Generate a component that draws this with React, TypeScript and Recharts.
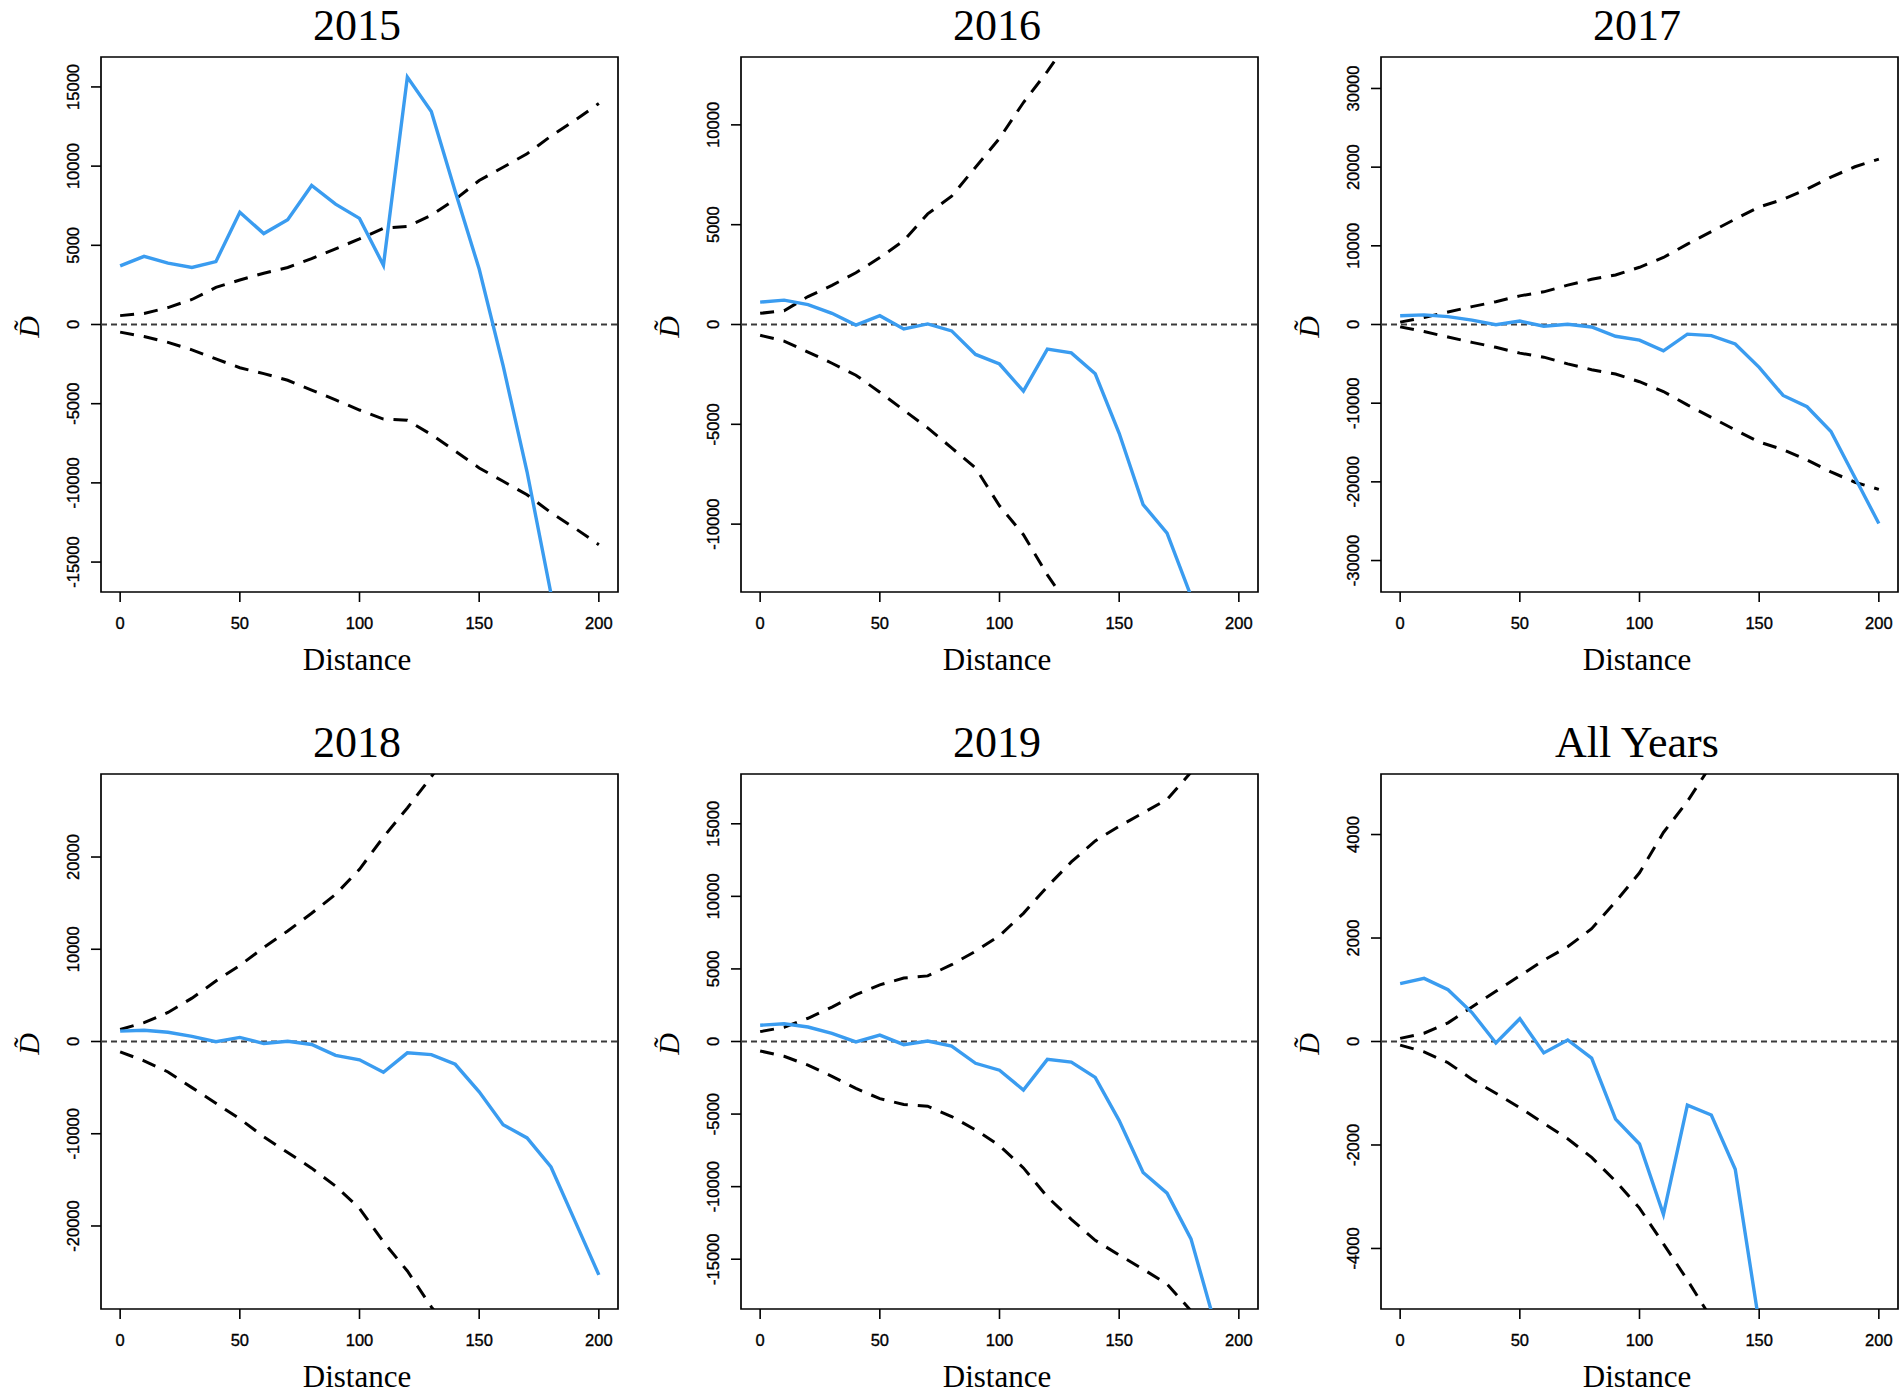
import React from "react";
import { LineChart, Line, XAxis, YAxis, ReferenceLine, ReferenceArea } from "recharts";

const distances = [0, 10, 20, 30, 40, 50, 60, 70, 80, 90, 100, 110, 120, 130, 140, 150, 160, 170, 180, 190, 200];
const xTicks = [0, 50, 100, 150, 200];

const obs2015 = [3700, 4300, 3880, 3600, 3970, 7090, 5740, 6610, 8780, 7600, 6700, 3740, 15620, 13450, 8400, 3500, -2600, -9300, -17000, -24500, -32000];
const up2015 = [560, 700, 1070, 1580, 2340, 2810, 3240, 3600, 4160, 4780, 5400, 6080, 6190, 6900, 7900, 9090, 9930, 10780, 11900, 12890, 13960];
const lo2015 = [-480, -760, -1130, -1600, -2170, -2730, -3100, -3520, -4140, -4760, -5400, -5970, -6050, -6950, -7990, -9060, -9900, -10750, -11880, -12860, -13900];
const yTicks2015 = [-15000, -10000, -5000, 0, 5000, 10000, 15000];

const obsLater = [1120, 1220, 1000, 560, -30, 440, -220, 30, -320, -1500, -1980, -3340, -1230, -1420, -2470, -5450, -9020, -10450, -13600, -19440, -25300];

const up2016 = [560, 690, 1400, 1960, 2590, 3350, 4200, 5540, 6430, 7880, 9330, 11120, 12680, 14400, 16300, 18300, 20400, 22600, 24900, 27300, 29800];
const lo2016 = [-540, -830, -1380, -1940, -2540, -3390, -4290, -5180, -6180, -7190, -9080, -10530, -12540, -14300, -16300, -18300, -20400, -22600, -24900, -27300, -29800];
const yTicks2016 = [-10000, -5000, 0, 5000, 10000];

const up2017 = [300, 900, 1590, 2270, 2900, 3640, 4150, 5000, 5740, 6300, 7270, 8520, 10220, 11810, 13400, 14940, 15900, 17210, 18740, 20050, 21020];
const lo2017 = [-300, -900, -1590, -2270, -2900, -3640, -4150, -5000, -5740, -6300, -7270, -8520, -10220, -11810, -13400, -14940, -15900, -17210, -18740, -20050, -20960];
const yTicks2017 = [-30000, -20000, -10000, 0, 10000, 20000, 30000];

const up2018 = [1300, 2040, 3150, 4700, 6550, 8250, 10190, 11980, 13900, 15950, 18670, 22160, 25320, 28700, 32200, 35800, 39500, 43300, 47200, 51200, 55300];
const lo2018 = [-1120, -2090, -3300, -5000, -6690, -8390, -10330, -12030, -13730, -15670, -18090, -21730, -24880, -28760, -32200, -35800, -39500, -43300, -47200, -51200, -55300];
const yTicks2018 = [-20000, -10000, 0, 10000, 20000];

const up2019 = [680, 980, 1600, 2370, 3230, 3900, 4370, 4520, 5290, 6220, 7290, 8830, 10680, 12370, 13820, 14830, 15750, 16680, 18550, 20400, 22300];
const lo2019 = [-650, -1020, -1630, -2400, -3230, -3940, -4340, -4460, -5170, -6090, -7170, -8710, -10710, -12250, -13700, -14710, -15690, -16710, -18550, -20400, -22300];
const yTicks2019 = [-15000, -10000, -5000, 0, 5000, 10000, 15000];

const upAll = [60, 160, 360, 665, 970, 1270, 1570, 1830, 2180, 2700, 3260, 4040, 4640, 5350, 6100, 6900, 7700, 8600, 9500, 10400, 11400];
const loAll = [-70, -200, -410, -730, -1000, -1280, -1580, -1880, -2240, -2700, -3220, -3910, -4610, -5350, -6100, -6900, -7700, -8600, -9500, -10400, -11400];
const yTicksAll = [-4000, -2000, 0, 2000, 4000];

const titles = ["2015", "2016", "2017", "2018", "2019", "All Years"];
const limits = [16890, 13400, 34000, 29000, 18430, 5170];

const panels = [
  { title: titles[0], obs: obs2015, up: up2015, lo: lo2015, lim: limits[0], ticks: yTicks2015 },
  { title: titles[1], obs: obsLater, up: up2016, lo: lo2016, lim: limits[1], ticks: yTicks2016 },
  { title: titles[2], obs: obsLater, up: up2017, lo: lo2017, lim: limits[2], ticks: yTicks2017 },
  { title: titles[3], obs: obsLater, up: up2018, lo: lo2018, lim: limits[3], ticks: yTicks2018 },
  { title: titles[4], obs: obsLater, up: up2019, lo: lo2019, lim: limits[4], ticks: yTicks2019 },
  { title: titles[5], obs: obsLater, up: upAll, lo: loAll, lim: limits[5], ticks: yTicksAll },
];

const PW = 640;
const PH = 717;
const PLOT_LEFT = 101;
const PLOT_TOP = 57;
const PLOT_RIGHT = 618;
const PLOT_BOTTOM = 592;
const CENTER_X = 357;

const tickFont = "'Liberation Sans', Arial, sans-serif";
const serif = "'Liberation Serif', 'Times New Roman', serif";

const XTick = (props: any) => {
  const { x, payload } = props;
  return (
    <text x={x} y={629} textAnchor="middle" fontFamily={tickFont} fontSize={16.5} fill="#000" stroke="#000" strokeWidth={0.35}>
      {payload.value}
    </text>
  );
};

const YTick = (props: any) => {
  const { y, payload } = props;
  const cx = 73;
  return (
    <text
      x={cx}
      y={y}
      transform={`rotate(-90 ${cx} ${y})`}
      textAnchor="middle"
      dy="0.35em"
      fontFamily={tickFont}
      fontSize={16.5}
      fill="#000"
      stroke="#000"
      strokeWidth={0.35}
    >
      {payload.value}
    </text>
  );
};

function Panel({ p, left, top }: { p: any; left: number; top: number }) {
  const data = distances.map((d, i) => ({ d, obs: p.obs[i], up: p.up[i], lo: p.lo[i] }));
  return (
    <div style={{ position: "absolute", left, top, width: PW, height: PH }}>
      <LineChart
        width={PW}
        height={PH}
        data={data}
        margin={{ top: PLOT_TOP, right: PW - PLOT_RIGHT, bottom: PH - PLOT_BOTTOM - 40, left: 0 }}
      >
        <XAxis
          dataKey="d"
          type="number"
          domain={[-8, 208]}
          ticks={xTicks}
          allowDataOverflow
          axisLine={false}
          tickLine={{ stroke: "#000", strokeWidth: 1.6 }}
          tickSize={10}
          height={40}
          tick={<XTick />}
          interval={0}
        />
        <YAxis
          type="number"
          domain={[-p.lim, p.lim]}
          ticks={p.ticks}
          allowDataOverflow
          axisLine={false}
          tickLine={{ stroke: "#000", strokeWidth: 1.6 }}
          tickSize={10}
          width={PLOT_LEFT}
          tick={<YTick />}
          interval={0}
        />
        <ReferenceLine y={0} stroke="#3a3a3a" strokeWidth={2.2} strokeDasharray="6 4" />
        <Line type="linear" dataKey="up" stroke="#000" strokeWidth={3} strokeDasharray="14 10" dot={false} isAnimationActive={false} />
        <Line type="linear" dataKey="lo" stroke="#000" strokeWidth={3} strokeDasharray="14 10" dot={false} isAnimationActive={false} />
        <Line type="linear" dataKey="obs" stroke="#3a9cf0" strokeWidth={3.4} dot={false} isAnimationActive={false} />
        <ReferenceArea x1={-8} x2={208} y1={-p.lim} y2={p.lim} fill="none" fillOpacity={0} stroke="#000" strokeWidth={1.7} ifOverflow="visible" />
      </LineChart>
      <svg width={PW} height={PH} style={{ position: "absolute", left: 0, top: 0, pointerEvents: "none" }}>
        <text x={CENTER_X} y={40} textAnchor="middle" fontFamily={serif} fontSize={44} fill="#000">
          {p.title}
        </text>
        <text x={CENTER_X} y={670} textAnchor="middle" fontFamily={serif} fontSize={31} fill="#000">
          Distance
        </text>
        <text
          x={28}
          y={327}
          transform="rotate(-90 28 327)"
          textAnchor="middle"
          dy="0.35em"
          fontFamily={serif}
          fontStyle="italic"
          fontSize={30}
          fill="#000"
        >
          {"D\u0303"}
        </text>
      </svg>
    </div>
  );
}

export default function App() {
  return (
    <div style={{ position: "absolute", left: 0, top: 0, width: 1902, height: 1395, background: "#fff", overflow: "hidden" }}>
      {panels.map((p, i) => (
        <Panel key={p.title} p={p} left={(i % 3) * 640} top={Math.floor(i / 3) * 717} />
      ))}
    </div>
  );
}
